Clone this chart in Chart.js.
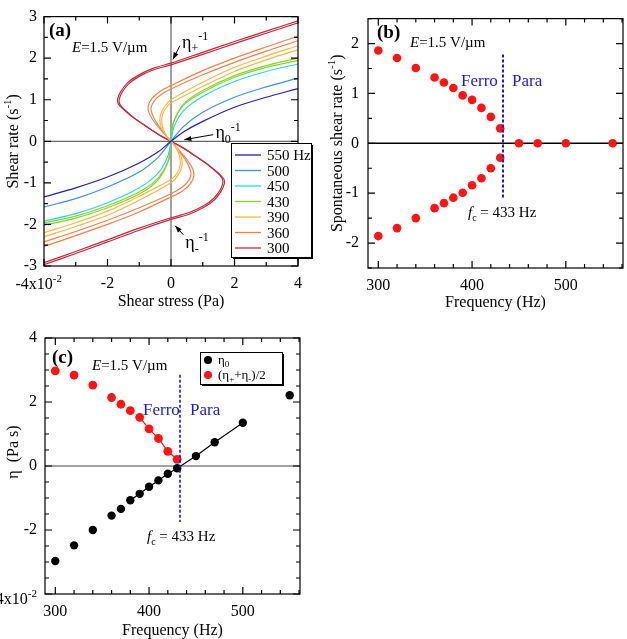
<!DOCTYPE html>
<html>
<head>
<meta charset="utf-8">
<script src="https://cdn.jsdelivr.net/npm/chart.js@4.4.1/dist/chart.umd.min.js"></script>
<style>
  body { margin: 0; background: #fff; width: 627px; height: 639px; position: relative; overflow: hidden; }
  canvas { position: absolute; }
</style>
</head>
<body>
<canvas id="chartA" width="320" height="312" style="left:0;top:0"></canvas>
<canvas id="chartB" width="317" height="312" style="left:310px;top:0"></canvas>
<canvas id="chartC" width="320" height="321" style="left:0;top:318px"></canvas>
<script>
// ---- panel (a): shear rate vs shear stress (x in 10^-2 Pa, y in 1/s) ----
const legendA = ['550 Hz', '500', '450', '430', '390', '360', '300'];
const curve550 = [[-4,-1.34],[-3,-1.12],[-2,-0.86],[-1,-0.52],[-0.4,-0.25],[0,0],[0.4,0.23],[1,0.48],[2,0.82],[3,1.06],[4,1.27]];
const curve500 = [[-4,-1.58],[-3,-1.38],[-2,-1.1],[-1,-0.74],[-0.4,-0.38],[0,0],[0.4,0.36],[1,0.7],[2,1.06],[3,1.31],[4,1.52]];
const curve450 = [[-4,-1.92],[-3,-1.74],[-2,-1.48],[-1,-1.12],[-0.4,-0.76],[-0.1,-0.36],[0,0],[0.1,0.36],[0.4,0.74],[1,1.08],[2,1.44],[3,1.68],[4,1.86]];
const curve430a = [[-4,-2.02],[-3,-1.85],[-2,-1.6],[-1,-1.27],[-0.4,-0.92],[-0.08,-0.45],[0,0],[0.08,0.45],[0.4,0.9],[1,1.22],[2,1.58],[3,1.82],[4,2.0]];
const curve430b = [[-4,-1.96],[-3,-1.8],[-2,-1.55],[-1,-1.22],[-0.4,-0.88],[-0.06,-0.42],[0,0],[0.06,0.42],[0.4,0.87],[1,1.18],[2,1.54],[3,1.78],[4,1.94]];
const curve390a = [[-4,-2.3],[-3,-2.05],[-2,-1.78],[-1,-1.42],[0,-1.0],[0.22,-0.82],[0.34,-0.6],[0.32,-0.36],[0.16,-0.14],[0,0],[-0.16,0.14],[-0.32,0.36],[-0.34,0.6],[-0.22,0.82],[0,1.0],[1,1.42],[2,1.78],[3,2.05],[4,2.3]];
const curve390b = [[-4,-2.2],[-3,-1.96],[-2,-1.68],[-1,-1.32],[0,-0.92],[0.2,-0.76],[0.29,-0.56],[0.26,-0.33],[0.13,-0.12],[0,0],[-0.13,0.12],[-0.26,0.33],[-0.29,0.56],[-0.2,0.76],[0,0.92],[1,1.32],[2,1.68],[3,1.96],[4,2.2]];
const curve360a = [[-4,-2.53],[-3,-2.27],[-2,-2.0],[-1,-1.7],[0,-1.34],[0.35,-1.2],[0.6,-1.03],[0.72,-0.84],[0.68,-0.66],[0.5,-0.44],[0.26,-0.22],[0,0],[-0.26,0.22],[-0.5,0.44],[-0.68,0.66],[-0.72,0.84],[-0.6,1.03],[-0.35,1.2],[0,1.34],[1,1.7],[2,2.0],[3,2.27],[4,2.53]];
const curve360b = [[-4,-2.42],[-3,-2.17],[-2,-1.9],[-1,-1.6],[0,-1.26],[0.3,-1.13],[0.52,-0.98],[0.63,-0.8],[0.58,-0.63],[0.43,-0.42],[0.22,-0.2],[0,0],[-0.22,0.2],[-0.43,0.42],[-0.58,0.63],[-0.63,0.8],[-0.52,0.98],[-0.3,1.13],[0,1.26],[1,1.6],[2,1.9],[3,2.17],[4,2.42]];
const curve300a = [[-4,-2.97],[-3,-2.7],[-2,-2.42],[-1,-2.14],[0,-1.88],[0.55,-1.76],[1.05,-1.58],[1.38,-1.4],[1.58,-1.2],[1.68,-1.02],[1.66,-0.9],[1.5,-0.77],[1.2,-0.58],[0.8,-0.37],[0.4,-0.17],[0,0],[-0.4,0.17],[-0.8,0.37],[-1.2,0.58],[-1.5,0.77],[-1.66,0.9],[-1.68,1.02],[-1.58,1.2],[-1.38,1.4],[-1.05,1.58],[-0.55,1.76],[0,1.88],[1,2.14],[2,2.4],[3,2.65],[4,2.9]];
const curve300b = [[-4,-2.92],[-3,-2.65],[-2,-2.37],[-1,-2.09],[0,-1.84],[0.55,-1.72],[1.03,-1.55],[1.35,-1.37],[1.54,-1.18],[1.63,-1.01],[1.61,-0.89],[1.46,-0.76],[1.17,-0.57],[0.78,-0.36],[0.39,-0.16],[0,0],[-0.39,0.16],[-0.78,0.36],[-1.17,0.57],[-1.46,0.76],[-1.61,0.89],[-1.63,1.01],[-1.54,1.18],[-1.35,1.37],[-1.03,1.55],[-0.55,1.72],[0,1.84],[1,2.09],[2,2.35],[3,2.6],[4,2.85]];
const curvesA = [[curve550], [curve500], [curve450], [curve430a, curve430b], [curve390a, curve390b], [curve360a, curve360b], [curve300a, curve300b]];
const xTicksA = [-4, -2, 0, 2, 4];
const yTicksA = [-3, -2, -1, 0, 1, 2, 3];

// ---- panel (b): spontaneous shear rate vs frequency ----
const freqFerro = [300, 320, 340, 360, 370, 380, 390, 400, 410, 420, 430];
const rateUp = [1.86, 1.71, 1.51, 1.32, 1.22, 1.11, 0.96, 0.87, 0.71, 0.53, 0.30];
const rateDown = [-1.86, -1.70, -1.50, -1.30, -1.20, -1.09, -0.99, -0.84, -0.70, -0.50, -0.29];
const freqPara = [450, 470, 500, 550];
const ratePara = [0, 0, 0, 0];
const xTicksF = [300, 400, 500];
const yTicksB = [-2, -1, 0, 1, 2];
const fc = 433;
const fcSpanB = [1.78, -1.1];

// ---- panel (c): viscosity vs frequency (10^-2 Pa s) ----
const freqAll = [300, 320, 340, 360, 370, 380, 390, 400, 410, 420, 430, 450, 470, 500, 550];
const eta0 = [-2.97, -2.48, -2.0, -1.55, -1.34, -1.07, -0.87, -0.65, -0.45, -0.24, -0.07, 0.31, 0.74, 1.35, 2.21];
const etaMean = [2.97, 2.84, 2.53, 2.14, 1.93, 1.73, 1.52, 1.16, 0.86, 0.46, 0.21];
const yTicksC = [-4, -2, 0, 2, 4];
const fcSpanC = [2.85, -1.75];

const colorsA = ['#2222aa', '#3a93ea', '#2fd6ea', '#86d62a', '#f9b84a', '#f5814a', '#c92a3c'];
const FONT = "'Liberation Serif', 'Times New Roman', serif";
const BLUE = '#1a1ad6';

Chart.defaults.font.family = FONT;
Chart.defaults.font.size = 16;
Chart.defaults.color = '#000';
Chart.defaults.animation = false;

const pts = (xs, ys) => xs.map((x, i) => ({x: x, y: ys[i]}));

function drawRich(ctx, parts, x, y, size, align) {
  const segs = parts.map(p => typeof p === 'string' ? {t: p} : p);
  const fontOf = s => (s.it ? 'italic ' : '') + (s.b ? 'bold ' : '') + ((s.sub || s.sup) ? Math.round(size * 0.68) : size) + 'px ' + FONT;
  let w = 0;
  segs.forEach(s => { ctx.font = fontOf(s); s.w = ctx.measureText(s.t).width; w += s.w; });
  let cx = align === 'center' ? x - w / 2 : align === 'right' ? x - w : x;
  ctx.textAlign = 'left';
  ctx.textBaseline = 'alphabetic';
  segs.forEach(s => {
    ctx.font = fontOf(s);
    ctx.fillStyle = s.c || '#000';
    const dy = s.sub ? size * 0.25 : s.sup ? -size * 0.42 : 0;
    ctx.fillText(s.t, cx, y + size * 0.35 + dy);
    cx += s.w;
  });
}

function arrow(ctx, x1, y1, x2, y2) {
  ctx.beginPath(); ctx.moveTo(x1, y1); ctx.lineTo(x2, y2); ctx.stroke();
  const a = Math.atan2(y2 - y1, x2 - x1), L = 7, W = 2.6;
  ctx.beginPath();
  ctx.moveTo(x2, y2);
  ctx.lineTo(x2 - L * Math.cos(a) + W * Math.sin(a), y2 - L * Math.sin(a) - W * Math.cos(a));
  ctx.lineTo(x2 - L * Math.cos(a) - W * Math.sin(a), y2 - L * Math.sin(a) + W * Math.cos(a));
  ctx.closePath(); ctx.fill();
}

// box frame, inward ticks on all sides, zero lines
function frame(opt) {
  const marks = (scale, step, major) => {
    const out = [];
    for (let k = Math.ceil(scale.min / step - 1e-9); k * step <= scale.max + 1e-9; k++) {
      const v = k * step;
      out.push({p: scale.getPixelForValue(v), major: Math.abs(v / major - Math.round(v / major)) < 1e-6});
    }
    return out;
  };
  return {
    id: 'frame',
    beforeDatasetsDraw(chart) {
      const {ctx, chartArea: a, scales: {x, y}} = chart;
      ctx.save();
      ctx.strokeStyle = opt.zeroColor;
      ctx.lineWidth = opt.zeroWidth;
      ctx.beginPath();
      if (opt.zeroY) { const py = y.getPixelForValue(0); ctx.moveTo(a.left, py); ctx.lineTo(a.right, py); }
      if (opt.zeroX) { const px = x.getPixelForValue(0); ctx.moveTo(px, a.top); ctx.lineTo(px, a.bottom); }
      ctx.stroke();
      ctx.restore();
    },
    afterDatasetsDraw(chart) {
      const {ctx, chartArea: a, scales: {x, y}} = chart;
      ctx.save();
      ctx.strokeStyle = '#000';
      ctx.lineWidth = 1.2;
      ctx.strokeRect(a.left, a.top, a.right - a.left, a.bottom - a.top);
      ctx.beginPath();
      marks(x, opt.xMinor, opt.xMajor).forEach(m => {
        const len = m.major ? 7 : 4;
        ctx.moveTo(m.p, a.bottom); ctx.lineTo(m.p, a.bottom - len);
        ctx.moveTo(m.p, a.top); ctx.lineTo(m.p, a.top + len);
      });
      marks(y, opt.yMinor, opt.yMajor).forEach(m => {
        const len = m.major ? 7 : 4;
        ctx.moveTo(a.left, m.p); ctx.lineTo(a.left + len, m.p);
        ctx.moveTo(a.right, m.p); ctx.lineTo(a.right - len, m.p);
      });
      ctx.stroke();
      ctx.restore();
    }
  };
}

function scaleOpts(min, max, ticks, pad, fit, isX) {
  return {
    type: 'linear', min: min, max: max,
    grid: {display: false, drawTicks: false},
    border: {display: false},
    afterBuildTicks: s => { s.ticks = ticks.map(v => ({value: v})); },
    afterFit: s => { if (isX) s.height = fit; else s.width = fit; },
    ticks: {padding: pad, font: {size: 16}, callback: v => (v === -4 ? '' : String(v))}
  };
}

// ---------------- chart (a) ----------------
const datasetsA = [];
curvesA.forEach((runs, i) => {
  runs.forEach(run => {
    datasetsA.push({
      data: run.map(p => ({x: p[0], y: p[1]})),
      showLine: true, borderColor: colorsA[i], borderWidth: 1.2,
      pointRadius: 0, tension: 0.3
    });
  });
});

new Chart(document.getElementById('chartA'), {
  type: 'scatter',
  data: {datasets: datasetsA},
  options: {
    responsive: false,
    layout: {autoPadding: false, padding: {left: 0, top: 13, right: 22, bottom: 0}},
    plugins: {legend: {display: false}, tooltip: {enabled: false}},
    scales: {
      x: scaleOpts(-4, 4, xTicksA, 8, 46, true),
      y: scaleOpts(-3, 3, yTicksA, 7, 44, false)
    }
  },
  plugins: [
    frame({xMinor: 1, xMajor: 2, yMinor: 0.5, yMajor: 1, zeroX: true, zeroY: true, zeroColor: '#444', zeroWidth: 1}),
    {
      id: 'notesA',
      afterDraw(chart) {
        const {ctx, chartArea: a, scales: {x, y}} = chart;
        ctx.save();
        drawRich(ctx, [{t: '(a)', b: true}], 49, 29, 19, 'left');
        drawRich(ctx, [{t: 'E', it: true}, '=1.5 V/\u00b5m'], 72, 47, 15, 'left');
        // -4x10^-2 tick label
        drawRich(ctx, ['-4x10', {t: '-2', sup: true}], x.getPixelForValue(-4) + 18, a.bottom + 17, 16, 'right');
        // arrows
        ctx.strokeStyle = '#000'; ctx.fillStyle = '#000'; ctx.lineWidth = 1;
        arrow(ctx, x.getPixelForValue(0.28), y.getPixelForValue(2.3), x.getPixelForValue(0.06), y.getPixelForValue(1.97));
        arrow(ctx, x.getPixelForValue(1.33), y.getPixelForValue(0.16), x.getPixelForValue(0.42), y.getPixelForValue(0.04));
        arrow(ctx, x.getPixelForValue(0.39), y.getPixelForValue(-2.25), x.getPixelForValue(0.13), y.getPixelForValue(-2.03));
        drawRich(ctx, ['\u03b7', {t: '+', sub: true}, {t: '-1', sup: true}], x.getPixelForValue(0.35), y.getPixelForValue(2.4), 18, 'left');
        drawRich(ctx, ['\u03b7', {t: '0', sub: true}, {t: '-1', sup: true}], x.getPixelForValue(1.4), y.getPixelForValue(0.22), 18, 'left');
        drawRich(ctx, ['\u03b7', {t: '-', sub: true}, {t: '-1', sup: true}], x.getPixelForValue(0.45), y.getPixelForValue(-2.42), 18, 'left');
        // legend box with shadow
        const bx = 231, by = 143, bw = 80, bh = 114;
        ctx.fillStyle = '#000';
        ctx.fillRect(bx + 2, by + 2, bw, bh);
        ctx.fillStyle = '#fff';
        ctx.fillRect(bx, by, bw, bh);
        ctx.strokeStyle = '#000'; ctx.lineWidth = 1;
        ctx.strokeRect(bx + 0.5, by + 0.5, bw, bh);
        legendA.forEach((lab, i) => {
          const ry = by + 12 + i * 15.5;
          ctx.strokeStyle = colorsA[i]; ctx.lineWidth = 1.3;
          ctx.beginPath(); ctx.moveTo(bx + 4, ry); ctx.lineTo(bx + 30, ry); ctx.stroke();
          drawRich(ctx, [lab], bx + 36, ry, 15, 'left');
        });
        // axis titles
        drawRich(ctx, ['Shear stress (Pa)'], (a.left + a.right) / 2, 300, 16, 'center');
        ctx.translate(12, (a.top + a.bottom) / 2);
        ctx.rotate(-Math.PI / 2);
        drawRich(ctx, ['Shear rate (s', {t: '-1', sup: true}, ')'], 0, 0, 16, 'center');
        ctx.restore();
      }
    }
  ]
});

// ---------------- chart (b) ----------------
new Chart(document.getElementById('chartB'), {
  type: 'scatter',
  data: {
    datasets: [
      {data: [{x: fc, y: fcSpanB[0]}, {x: fc, y: fcSpanB[1]}], showLine: true, borderColor: BLUE, borderWidth: 2, borderDash: [3, 2], pointRadius: 0},
      {data: pts(freqFerro, rateUp), pointRadius: 4.3, pointBackgroundColor: '#ff1414', pointBorderWidth: 0},
      {data: pts(freqFerro, rateDown), pointRadius: 4.3, pointBackgroundColor: '#ff1414', pointBorderWidth: 0},
      {data: pts(freqPara, ratePara), pointRadius: 4.3, pointBackgroundColor: '#ff1414', pointBorderWidth: 0}
    ]
  },
  options: {
    responsive: false,
    layout: {autoPadding: false, padding: {left: 0, top: 15, right: 4, bottom: 0}},
    plugins: {legend: {display: false}, tooltip: {enabled: false}},
    scales: {
      x: scaleOpts(289, 561, xTicksF, 8, 44, true),
      y: scaleOpts(-2.5, 2.5, yTicksB, 9, 58, false)
    }
  },
  plugins: [
    frame({xMinor: 20, xMajor: 100, yMinor: 0.5, yMajor: 1, zeroY: true, zeroColor: '#000', zeroWidth: 1.6}),
    {
      id: 'notesB',
      afterDraw(chart) {
        const {ctx, chartArea: a} = chart;
        ctx.save();
        drawRich(ctx, [{t: '(b)', b: true}], 67, 31, 19, 'left');
        drawRich(ctx, [{t: 'E', it: true}, '=1.5 V/\u00b5m'], 100, 42, 15, 'left');
        drawRich(ctx, [{t: 'Ferro', c: BLUE}], 151, 80, 17, 'left');
        drawRich(ctx, [{t: 'Para', c: BLUE}], 202, 80, 17, 'left');
        drawRich(ctx, [{t: 'f', it: true}, {t: 'c', sub: true}, ' = 433 Hz'], 158, 212, 15, 'left');
        drawRich(ctx, ['Frequency (Hz)'], (a.left + a.right) / 2, 301, 16, 'center');
        ctx.translate(26, (a.top + a.bottom) / 2);
        ctx.rotate(-Math.PI / 2);
        drawRich(ctx, ['Spontaneous shear rate (s', {t: '-1', sup: true}, ')'], 0, 0, 16, 'center');
        ctx.restore();
      }
    }
  ]
});

// ---------------- chart (c) ----------------
const lineStart = freqAll.indexOf(380), lineEnd = freqAll.indexOf(500);
const redStart = freqFerro.indexOf(390);
new Chart(document.getElementById('chartC'), {
  type: 'scatter',
  data: {
    datasets: [
      {data: [{x: fc, y: fcSpanC[0]}, {x: fc, y: fcSpanC[1]}], showLine: true, borderColor: BLUE, borderWidth: 1.6, borderDash: [3, 2], pointRadius: 0},
      {data: pts(freqAll.slice(lineStart, lineEnd + 1), eta0.slice(lineStart, lineEnd + 1)), showLine: true, borderColor: '#000', borderWidth: 1.2, pointRadius: 0},
      {data: pts(freqFerro.slice(redStart), etaMean.slice(redStart)), showLine: true, borderColor: '#ff1414', borderWidth: 1.2, pointRadius: 0},
      {data: pts(freqAll, eta0), pointRadius: 4.2, pointBackgroundColor: '#000', pointBorderWidth: 0},
      {data: pts(freqFerro, etaMean), pointRadius: 4.4, pointBackgroundColor: '#ff1414', pointBorderWidth: 0}
    ]
  },
  options: {
    responsive: false,
    layout: {autoPadding: false, padding: {left: 0, top: 20, right: 20, bottom: 0}},
    plugins: {legend: {display: false}, tooltip: {enabled: false}},
    scales: {
      x: scaleOpts(289, 561, xTicksF, 8, 45, true),
      y: scaleOpts(-4, 4, yTicksC, 8, 45, false)
    }
  },
  plugins: [
    frame({xMinor: 20, xMajor: 100, yMinor: 0.5, yMajor: 2, zeroY: true, zeroColor: '#444', zeroWidth: 1}),
    {
      id: 'notesC',
      afterDraw(chart) {
        const {ctx, chartArea: a, scales: {y}} = chart;
        ctx.save();
        drawRich(ctx, [{t: '(c)', b: true}], 52, 38, 19, 'left');
        drawRich(ctx, [{t: 'E', it: true}, '=1.5 V/\u00b5m'], 92, 47, 15, 'left');
        drawRich(ctx, [{t: 'Ferro', c: BLUE}], 143, 91, 17, 'left');
        drawRich(ctx, [{t: 'Para', c: BLUE}], 190, 91, 17, 'left');
        drawRich(ctx, [{t: 'f', it: true}, {t: 'c', sub: true}, ' = 433 Hz'], 147, 218, 15, 'left');
        drawRich(ctx, ['-4x10', {t: '-2', sup: true}], a.left - 8, y.getPixelForValue(-4) + 4, 16, 'right');
        // legend
        const bx = 200, by = 34, bw = 82, bh = 32;
        ctx.fillStyle = '#000';
        ctx.fillRect(bx + 2, by + 2, bw, bh);
        ctx.fillStyle = '#fff';
        ctx.fillRect(bx, by, bw, bh);
        ctx.strokeStyle = '#000'; ctx.lineWidth = 1;
        ctx.strokeRect(bx + 0.5, by + 0.5, bw, bh);
        ctx.fillStyle = '#000';
        ctx.beginPath(); ctx.arc(bx + 8, by + 8, 4, 0, Math.PI * 2); ctx.fill();
        ctx.fillStyle = '#ff1414';
        ctx.beginPath(); ctx.arc(bx + 8, by + 23, 4, 0, Math.PI * 2); ctx.fill();
        drawRich(ctx, ['\u03b7', {t: '0', sub: true}], bx + 18, by + 7, 13, 'left');
        drawRich(ctx, ['(\u03b7', {t: '+', sub: true}, '+\u03b7', {t: '-', sub: true}, ')/2'], bx + 18, by + 22, 13, 'left');
        // axis titles
        drawRich(ctx, ['Frequency (Hz)'], (a.left + a.right) / 2, 311, 16, 'center');
        ctx.translate(12, (a.top + a.bottom) / 2);
        ctx.rotate(-Math.PI / 2);
        drawRich(ctx, ['\u03b7  (Pa s)'], 14, 0, 16, 'center');
        ctx.restore();
      }
    }
  ]
});
</script>
</body>
</html>
